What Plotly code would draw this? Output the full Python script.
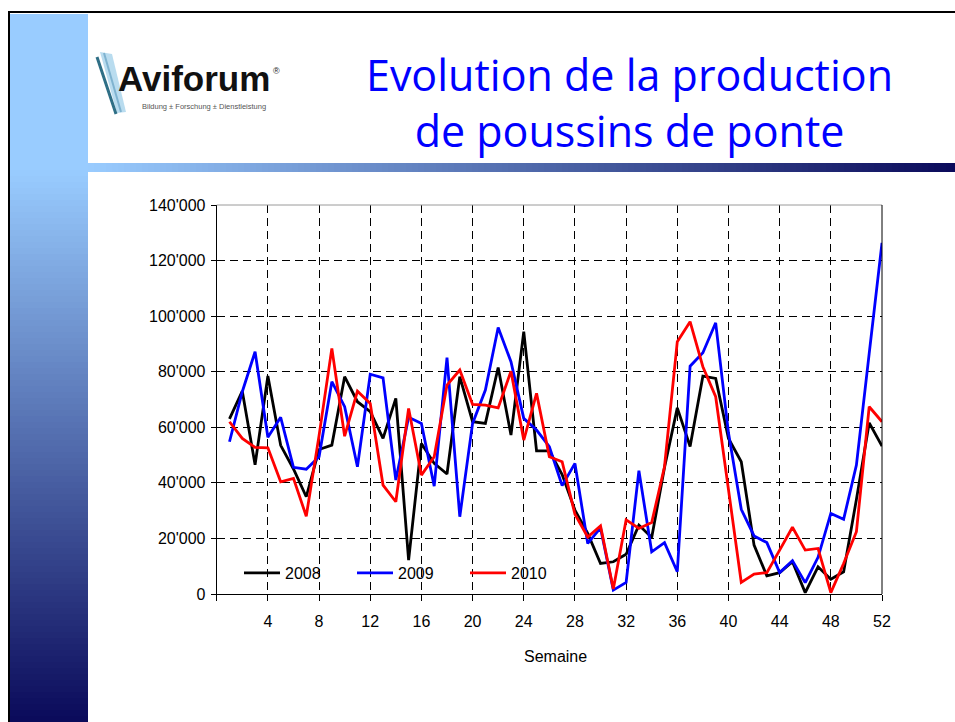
import plotly.graph_objects as go

W, H = 955, 722

weeks = list(range(1, 53))

prod_2008 = [63000, 73000, 46500, 78500, 53500, 45000, 35000, 52000, 53600, 78200,
             69200, 65600, 56000, 70400, 12200, 54200, 47000, 43200, 78200, 62000,
             61400, 81500, 57200, 94400, 51500, 51500, 43000, 30200, 21800, 11000,
             11600, 14300, 24800, 20300, 45500, 67000, 53100, 78400, 77600, 56000,
             47600, 17600, 6500, 7700, 11600, 500, 9800, 5300, 8000, 34000,
             61600, 53200]

prod_2009 = [54800, 72800, 87200, 56400, 63600, 45600, 44900, 49400, 76400, 67400,
             45800, 79100, 77800, 41000, 63600, 61400, 38800, 85100, 27800, 61400,
             73400, 95900, 83600, 63200, 59000, 53000, 39000, 47000, 18200, 23800,
             1400, 4200, 44400, 15200, 18500, 8000, 82000, 86800, 97600, 58000,
             30500, 20900, 18500, 7700, 12000, 4100, 13200, 29000, 26900, 46400,
             86600, 126400]

prod_2010 = [62000, 56000, 52800, 52600, 40400, 41600, 28000, 57000, 88400, 56800,
             73000, 68600, 39200, 33200, 66800, 42800, 49400, 75200, 80600, 68200,
             68000, 67000, 80200, 55400, 72200, 49400, 47600, 28700, 20500, 24500,
             1800, 26700, 23600, 25700, 45800, 90800, 98000, 81800, 71000, 37400,
             4200, 7200, 7700, 15800, 24000, 15800, 16400, 500, 11000, 22400,
             67400, 62000]

series_names = ["2008", "2009", "2010"]
series_colors = ["#000000", "#0000FF", "#FF0000"]

x_tick_vals = list(range(0, 53, 4))
x_tick_text = [""] + [str(v) for v in range(4, 53, 4)]
y_tick_vals = [0, 20000, 40000, 60000, 80000, 100000, 120000, 140000]
y_tick_text = ["0", "20'000", "40'000", "60'000", "80'000", "100'000", "120'000", "140'000"]

title_text = "Evolution de la production<br>de poussins de ponte"
x_title = "Semaine"


def px(x):
    return x / W


def py(y):
    return 1 - y / H


def lerp_color(c1, c2, t):
    t = max(0.0, min(1.0, t))
    r = round(c1[0] + (c2[0] - c1[0]) * t)
    g = round(c1[1] + (c2[1] - c1[1]) * t)
    b = round(c1[2] + (c2[2] - c1[2]) * t)
    return f"rgb({r},{g},{b})"


LIGHT = (153, 204, 255)
DARK = (10, 10, 90)

fig = go.Figure()
for name, vals, col in zip(series_names, [prod_2008, prod_2009, prod_2010], series_colors):
    fig.add_trace(go.Scatter(x=weeks, y=vals, mode="lines", name=name,
                             line=dict(color=col, width=2.8)))

# plot area in pixels
L, R, T, B = 216.7, 882.0, 205.0, 594.0

shapes = []
# left vertical gradient bar
y_start, y_end = 14, 722
step = 6
yy = y_start
while yy < y_end:
    y2 = min(yy + step, y_end)
    mid = (yy + y2) / 2
    t = (mid - 170) / (722 - 170)
    shapes.append(dict(type="rect", xref="paper", yref="paper",
                       x0=px(10), x1=px(88), y0=py(y2 + 0.5), y1=py(yy),
                       fillcolor=lerp_color(LIGHT, DARK, t), line=dict(width=0), layer="below"))
    yy = y2
# horizontal gradient bar under header
xx = 88
while xx < W:
    x2 = min(xx + 6, W)
    mid = (xx + x2) / 2
    t = (mid - 88) / (W - 88)
    shapes.append(dict(type="rect", xref="paper", yref="paper",
                       x0=px(xx), x1=px(x2 + 0.5), y0=py(172), y1=py(163),
                       fillcolor=lerp_color(LIGHT, DARK, t), line=dict(width=0), layer="below"))
    xx = x2
# black slide border lines
shapes.append(dict(type="line", xref="paper", yref="paper", x0=px(8), x1=px(W), y0=py(12), y1=py(12),
                   line=dict(color="black", width=2)))
shapes.append(dict(type="line", xref="paper", yref="paper", x0=px(9), x1=px(9), y0=py(12), y1=py(H),
                   line=dict(color="black", width=2)))
# plot frame (top grey, right black)
shapes.append(dict(type="line", xref="paper", yref="paper", x0=px(L), x1=px(R), y0=py(T), y1=py(T),
                   line=dict(color="#9a9a9a", width=1)))
shapes.append(dict(type="line", xref="paper", yref="paper", x0=px(R), x1=px(R), y0=py(T), y1=py(B),
                   line=dict(color="black", width=1)))
# logo stripes
shapes.append(dict(type="path", xref="paper", yref="paper",
                   path=f"M {px(100)},{py(52)} L {px(112)},{py(54)} L {px(126)},{py(112)} L {px(117)},{py(113)} Z",
                   fillcolor="#b9dcef", line=dict(width=0)))
shapes.append(dict(type="line", xref="paper", yref="paper", x0=px(97), x1=px(116), y0=py(57), y1=py(114),
                   line=dict(color="#2f6f86", width=3)))
shapes.append(dict(type="line", xref="paper", yref="paper", x0=px(104), x1=px(121), y0=py(53), y1=py(112),
                   line=dict(color="#7fb3d0", width=2)))

annotations = [
    dict(text=title_text, xref="paper", yref="paper", x=px(629), y=py(103), xanchor="center",
         yanchor="middle", showarrow=False, align="center",
         font=dict(family="Open Sans", size=43, color="#0000FF")),
    dict(text="<b>Aviforum</b>", xref="paper", yref="paper", x=px(116), y=py(79), xanchor="left",
         yanchor="middle", showarrow=False,
         font=dict(family="Liberation Sans", size=35, color="#111111")),
    dict(text="®", xref="paper", yref="paper", x=px(276), y=py(71), xanchor="center",
         yanchor="middle", showarrow=False,
         font=dict(family="Liberation Sans", size=9, color="#222222")),
    dict(text="Bildung ± Forschung ± Dienstleistung", xref="paper", yref="paper", x=px(140), y=py(106),
         xanchor="left", yanchor="middle", showarrow=False,
         font=dict(family="Liberation Sans", size=7.5, color="#555555")),
    dict(text=x_title, xref="paper", yref="paper", x=px(555), y=py(656), xanchor="center",
         yanchor="middle", showarrow=False,
         font=dict(family="Liberation Sans", size=16, color="black")),
]

fig.update_layout(
    width=W, height=H,
    margin=dict(l=0, r=0, t=0, b=0, autoexpand=False),
    paper_bgcolor="white", plot_bgcolor="white",
    showlegend=True,
    legend=dict(orientation="h", x=px(239), y=py(573), xanchor="left", yanchor="middle",
                bgcolor="rgba(0,0,0,0)", borderwidth=0, itemwidth=36,
                entrywidth=62, entrywidthmode="pixels",
                font=dict(family="Liberation Sans", size=16, color="black")),
    xaxis=dict(domain=[px(L), px(R)], range=[0, 52], tickmode="array", tickvals=x_tick_vals,
               ticktext=x_tick_text, ticks="outside", ticklen=6, tickcolor="black",
               ticklabelstandoff=7,
               showline=True, linecolor="black", linewidth=1,
               showgrid=True, gridcolor="black", gridwidth=1, griddash="8px,5px",
               zeroline=False, tickfont=dict(family="Liberation Sans", size=16, color="black")),
    yaxis=dict(domain=[py(B), py(T)], range=[0, 140000], tickmode="array", tickvals=y_tick_vals,
               ticktext=y_tick_text, ticks="outside", ticklen=5, tickcolor="black",
               ticklabelstandoff=2,
               showline=True, linecolor="black", linewidth=1,
               showgrid=True, gridcolor="black", gridwidth=1, griddash="8px,5px",
               zeroline=False, tickfont=dict(family="Liberation Sans", size=16, color="black")),
    shapes=shapes,
    annotations=annotations,
)

fig.write_html("out.html", config={"displayModeBar": False},
               post_script="document.body.style.margin='0';")
